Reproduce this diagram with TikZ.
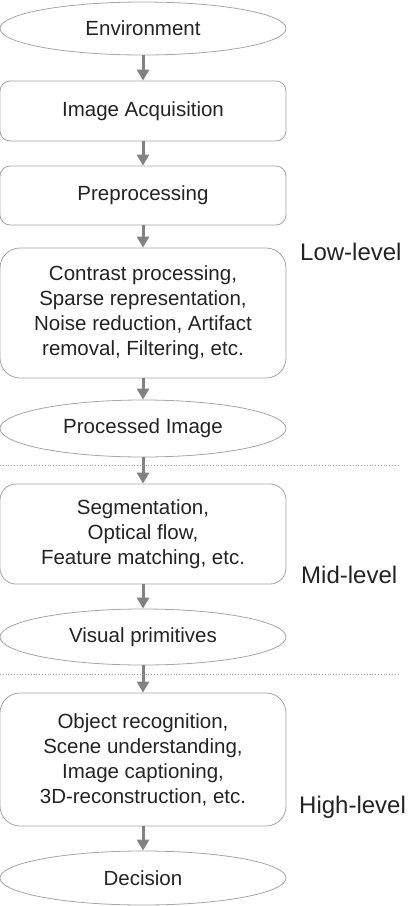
\documentclass[tikz,border=0pt]{standalone}
\usepackage{fontspec}
\setmainfont{Liberation Sans}
\usetikzlibrary{shapes.geometric, arrows.meta}
\definecolor{edgegray}{RGB}{165,165,165}
\definecolor{flowgray}{RGB}{130,130,130}
\definecolor{ink}{RGB}{35,35,35}
\tikzset{
  stage/.style={rectangle, rounded corners=10pt, draw=edgegray, line width=0.8pt,
                minimum width=286pt, align=center, inner sep=0pt, text=ink,
                font=\fontsize{20.5}{25}\selectfont},
  state/.style={ellipse, draw=edgegray, line width=0.8pt, minimum width=286pt,
                minimum height=54pt, inner sep=0pt, text=ink,
                font=\fontsize{20.5}{25}\selectfont},
  flow/.style={-{Triangle[length=11pt, width=12pt]}, line width=3pt, color=flowgray},
  level/.style={anchor=west, text=ink, inner sep=0pt, font=\fontsize{24}{28}\selectfont},
  divider/.style={dotted, draw=edgegray, line width=0.8pt},
}

\begin{document}
\begin{tikzpicture}[x=1pt, y=1pt]
    \useasboundingbox (0,0) rectangle (410,-906);

    % pipeline
    \node[state, minimum height=53pt] (env) at (143,-28.5) {Environment};
    \node[stage, minimum height=60pt] (acq) at (143,-111) {Image Acquisition};
    \node[stage, minimum height=59pt] (pre) at (143,-195.5) {Preprocessing};
    \node[stage, minimum height=130pt, rounded corners=20pt] (low) at (143,-313)
      {Contrast processing,\\ Sparse representation,\\ Noise reduction, Artifact\\ removal, Filtering, etc.};
    \node[state, minimum height=57pt] (proc) at (143,-428.5) {Processed Image};
    \node[stage, minimum height=100pt, rounded corners=16pt] (mid) at (143,-534)
      {Segmentation,\\ Optical flow,\\ Feature matching, etc.};
    \node[state, minimum height=56pt] (vis) at (143,-637) {Visual primitives};
    \node[stage, minimum height=133pt, rounded corners=20pt] (high) at (143,-759.5)
      {Object recognition,\\ Scene understanding,\\ Image captioning,\\ 3D-reconstruction, etc.};
    \node[state, minimum height=54pt] (dec) at (143,-878) {Decision};

    \foreach \a/\b in {env/acq, acq/pre, pre/low, low/proc, proc/mid, mid/vis, vis/high, high/dec}
      \draw[flow] (\a) -- (\b);

    % levels
    \draw[divider] (0,-465) -- (400,-465);
    \draw[divider] (0,-674) -- (400,-674);
    \node[level] (lowlab) at (300,-252) {Low-level};
    \node[level] (midlab) at (301,-575) {Mid-level};
    \node[level] (highlab) at (299,-807) {High-level};
\end{tikzpicture}
\end{document}
